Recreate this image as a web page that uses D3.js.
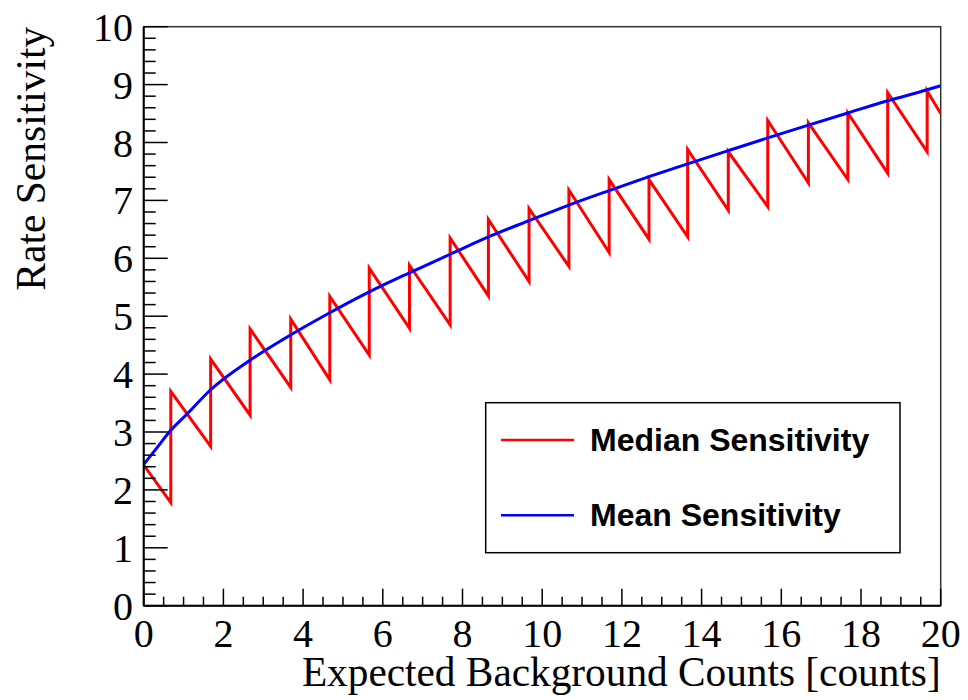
<script src="https://d3js.org/d3.v7.min.js"></script>
<body style="margin:0;background:#fff">
</body>
<script>
// median sensitivity: sawtooth, jumps where the Poisson median changes
var medianB = [0, 0.68, 0.68, 1.68, 1.68, 2.67, 2.67, 3.69, 3.69, 4.67, 4.67, 5.66, 5.66, 6.67, 6.67,
  7.69, 7.69, 8.65, 8.65, 9.67, 9.67, 10.67, 10.67, 11.68, 11.68, 12.68, 12.68, 13.65, 13.65,
  14.67, 14.67, 15.66, 15.66, 16.68, 16.68, 17.67, 17.67, 18.67, 18.67, 19.66, 19.66, 20];
var medianS = [2.43, 1.78, 3.70, 2.75, 4.26, 3.29, 4.78, 3.77, 4.95, 3.90, 5.34, 4.33, 5.83, 4.79, 5.88,
  4.85, 6.35, 5.35, 6.67, 5.60, 6.86, 5.86, 7.18, 6.10, 7.36, 6.33, 7.36, 6.37, 7.88,
  6.83, 7.84, 6.89, 8.38, 7.30, 8.34, 7.36, 8.51, 7.47, 8.86, 7.84, 8.89, 8.50];
// mean sensitivity: smooth curve
var meanB = [0, 0.3, 0.68, 1.1, 1.68, 2.67, 3.5, 4.67, 5.66, 6.67, 7.69, 8.65, 9.67, 10.67,
  11.68, 12.68, 13.65, 14.67, 15.66, 16.68, 17.67, 18.67, 19.66, 20];
var meanS = [2.44, 2.70, 3.03, 3.32, 3.73, 4.24, 4.60, 5.06, 5.42, 5.75, 6.07, 6.37, 6.65, 6.92,
  7.17, 7.41, 7.63, 7.86, 8.08, 8.30, 8.51, 8.72, 8.91, 8.98];
var xTicks = [0, 2, 4, 6, 8, 10, 12, 14, 16, 18, 20];
var yTicks = [0, 1, 2, 3, 4, 5, 6, 7, 8, 9, 10];
var legendLabels = ["Median Sensitivity", "Mean Sensitivity"];

const W = 968, H = 700;
const pLeft = 143.7, pRight = 940.7, pTop = 26.7, pBottom = 605.7;
const serif = "'Liberation Serif','Times New Roman',serif";

const svg = d3.select("body").append("svg")
  .attr("width", W).attr("height", H);

const x = d3.scaleLinear().domain([0, 20]).range([pLeft, pRight]);
const y = d3.scaleLinear().domain([0, 10]).range([pBottom, pTop]);

// frame
svg.append("rect")
  .attr("x", pLeft).attr("y", pTop)
  .attr("width", pRight - pLeft).attr("height", pBottom - pTop)
  .attr("fill", "none").attr("stroke", "#333").attr("stroke-width", 1.5);

// curves
svg.append("clipPath").attr("id", "clip").append("rect")
  .attr("x", pLeft).attr("y", pTop).attr("width", pRight - pLeft).attr("height", pBottom - pTop);

const lineLin = d3.line().x(d => x(d[0])).y(d => y(d[1]));
const lineMono = d3.line().x(d => x(d[0])).y(d => y(d[1])).curve(d3.curveMonotoneX);

svg.append("path")
  .attr("d", lineLin(medianB.map((b, i) => [b, medianS[i]])))
  .attr("fill", "none").attr("stroke", "#ff0000").attr("stroke-width", 3)
  .attr("stroke-linejoin", "miter").attr("clip-path", "url(#clip)");

svg.append("path")
  .attr("d", lineMono(meanB.map((b, i) => [b, meanS[i]])))
  .attr("fill", "none").attr("stroke", "#0000ff").attr("stroke-width", 3)
  .attr("clip-path", "url(#clip)");

// x axis
const xAxis = svg.append("g");
xAxis.selectAll(".minor").data(d3.range(0, 20.01, 0.5)).enter().append("line")
  .attr("x1", d => x(d)).attr("x2", d => x(d))
  .attr("y1", pBottom).attr("y2", d => (d % 2 === 0) ? pBottom - 17 : pBottom - 9)
  .attr("stroke", "#000").attr("stroke-width", 1.5);
xAxis.append("line").attr("x1", pLeft).attr("x2", pRight).attr("y1", pBottom).attr("y2", pBottom)
  .attr("stroke", "#000").attr("stroke-width", 2);
xAxis.selectAll("text").data(xTicks).enter().append("text")
  .attr("x", d => x(d)).attr("y", 647)
  .attr("text-anchor", "middle")
  .style("font-family", serif).style("font-size", "40px")
  .text(d => d);

// y axis
const yAxis = svg.append("g");
yAxis.selectAll(".minor").data(d3.range(0, 50.5, 1)).enter().append("line")
  .attr("y1", d => y(d / 5)).attr("y2", d => y(d / 5))
  .attr("x1", pLeft).attr("x2", d => (d % 5 === 0) ? pLeft + 24 : pLeft + 12)
  .attr("stroke", "#000").attr("stroke-width", 1.5);
yAxis.append("line").attr("x1", pLeft).attr("x2", pLeft).attr("y1", pTop).attr("y2", pBottom)
  .attr("stroke", "#000").attr("stroke-width", 2);
yAxis.selectAll("text").data(yTicks).enter().append("text")
  .attr("x", 133).attr("y", d => y(d) + 14)
  .attr("text-anchor", "end")
  .style("font-family", serif).style("font-size", "40px")
  .text(d => d);

// axis titles
svg.append("text")
  .attr("x", pRight).attr("y", 686)
  .attr("text-anchor", "end")
  .style("font-family", serif).style("font-size", "41.3px")
  .text("Expected Background Counts [counts]");

svg.append("text")
  .attr("transform", "translate(45," + pTop + ") rotate(-90)")
  .attr("text-anchor", "end")
  .style("font-family", serif).style("font-size", "41.5px")
  .text("Rate Sensitivity");

// legend
const lg = svg.append("g");
lg.append("rect")
  .attr("x", 485.7).attr("y", 402.7).attr("width", 414.3).attr("height", 150)
  .attr("fill", "#fff").attr("stroke", "#000").attr("stroke-width", 1.5);
const colors = ["#ff0000", "#0000ff"];
const rowY = [440, 515.3];
legendLabels.forEach(function(t, i) {
  lg.append("line").attr("x1", 501).attr("x2", 574).attr("y1", rowY[i]).attr("y2", rowY[i])
    .attr("stroke", colors[i]).attr("stroke-width", 2.5);
  lg.append("text").attr("x", 590).attr("y", rowY[i] + 11)
    .style("font-family", "'Liberation Sans',Arial,sans-serif")
    .style("font-weight", "bold").style("font-size", "32px")
    .text(t);
});
</script>
